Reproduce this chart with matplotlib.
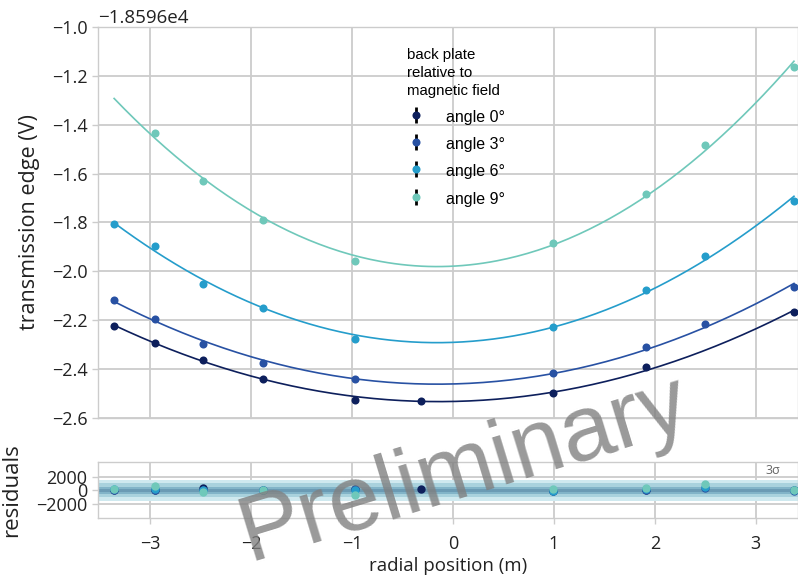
"""
    Transmission edge vs radial position

    Quadratic fits per back plate angle, with residuals panel.
"""

import numpy as np
import matplotlib
matplotlib.use("Agg")
import matplotlib.pyplot as plt
from matplotlib.ticker import ScalarFormatter

plt.rcParams['font.family'] = ['Open Sans', 'DejaVu Sans']

# --- data ---
OFFSET_V = -18596.0
positions = np.array([-3.36, -2.95, -2.48, -1.88, -0.97, -0.32, 0.99, 1.91, 2.50, 3.38])

labels = ['angle 0°', 'angle 3°', 'angle 6°', 'angle 9°']
colors = ['#0d1f5c', '#2851a3', '#259dcb', '#6fc8ba']

# indices into positions measured for each angle
idx_0 = [0, 1, 2, 3, 4, 5, 6, 7, 9]
idx_3 = [0, 1, 2, 3, 4, 6, 7, 8, 9]
idx_6 = [0, 1, 2, 3, 4, 6, 7, 8, 9]
idx_9 = [1, 2, 3, 4, 6, 7, 8, 9]

edge_0 = OFFSET_V + np.array([-2.222, -2.293, -2.364, -2.439, -2.526, -2.529, -2.499, -2.392, -2.165])
edge_3 = OFFSET_V + np.array([-2.117, -2.193, -2.296, -2.376, -2.442, -2.417, -2.311, -2.217, -2.064])
edge_6 = OFFSET_V + np.array([-1.805, -1.895, -2.050, -2.149, -2.278, -2.226, -2.077, -1.936, -1.711])
edge_9 = OFFSET_V + np.array([-1.434, -1.630, -1.790, -1.957, -1.884, -1.683, -1.483, -1.164])
edge_err = 0.003  # V, too small to see next to the markers

# residuals as shown in the lower panel
res_idx_0 = [0, 1, 2, 3, 4, 5, 6, 7, 9]
res_idx_3 = [0, 1, 2, 3, 4, 6, 7, 8, 9]
res_idx_6 = [0, 1, 2, 3, 4, 6, 7, 8, 9]
res_idx_9 = [0, 1, 2, 3, 4, 6, 7, 8, 9]
resid_0 = [50, 60, 290, 50, 150, 150, -150, 0, 0]
resid_3 = [100, 100, 100, 100, 200, -100, 50, 400, -50]
resid_6 = [120, 150, 0, 100, 50, -50, 250, 450, 0]
resid_9 = [150, 690, -230, 100, -630, 250, 350, 980, 0]
sigma = 520

GRID = '#cccccc'


def style_axes(ax) -> None:
    ax.set_facecolor('white')
    ax.grid(True, color=GRID, linewidth=1.3)
    ax.set_axisbelow(True)
    for sp in ax.spines.values():
        sp.set_color(GRID)
        sp.set_linewidth(1.0)
    ax.tick_params(direction='out', length=4, width=1, color=GRID,
                   labelsize=13, labelcolor='#222222')


def main() -> None:
    fig = plt.figure(figsize=(7.98, 5.77), dpi=100)
    ax = fig.add_axes([0.1228, 0.2756, 0.8772, 0.6776])
    axr = fig.add_axes([0.1228, 0.1017, 0.8772, 0.0971], sharex=ax)
    style_axes(ax)
    style_axes(axr)

    series = [
        (idx_0, edge_0, res_idx_0, resid_0),
        (idx_3, edge_3, res_idx_3, resid_3),
        (idx_6, edge_6, res_idx_6, resid_6),
        (idx_9, edge_9, res_idx_9, resid_9),
    ]
    xfit = np.linspace(positions.min(), positions.max(), 200)
    for (idx, edge, ridx, res), lab, col in zip(series, labels, colors):
        x = positions[idx]
        coef = np.polyfit(x, edge, 2)
        ax.plot(xfit, np.polyval(coef, xfit), color=col, lw=1.2, zorder=2)
        ax.errorbar(x, edge, yerr=edge_err, fmt='o', color=col, ms=5.8,
                    mew=0, ecolor='black', elinewidth=2, capsize=0,
                    label=lab, zorder=3)

    # residual bands
    axr.axhspan(-3 * sigma, 3 * sigma, color='#cfe9ef', lw=0, zorder=1)
    axr.axhspan(-2 * sigma, 2 * sigma, color='#a9d2dd', lw=0, zorder=1)
    axr.axhspan(-sigma, sigma, color='#82b4c8', lw=0, zorder=1)
    axr.axhspan(-0.4 * sigma, 0.4 * sigma, color='#6b9bb4', lw=0, zorder=1)
    axr.text(3.1, 3 * sigma + 350, '3σ', fontsize=9, color='#666666',
             va='bottom', ha='left', zorder=2)
    for (idx, edge, ridx, res), col in zip(series, colors):
        axr.plot(positions[ridx], res, 'o', color=col, ms=6, mew=0, zorder=3)

    ax.set_xlim(-3.52, 3.42)
    ax.set_ylim(OFFSET_V - 2.6, OFFSET_V - 1.0)
    ax.set_yticks(OFFSET_V + np.array([-2.6, -2.4, -2.2, -2.0, -1.8, -1.6, -1.4, -1.2, -1.0]))
    fmt = ScalarFormatter(useOffset=OFFSET_V)
    ax.yaxis.set_major_formatter(fmt)
    ax.yaxis.get_offset_text().set_fontsize(13.5)
    ax.yaxis.get_offset_text().set_color('#222222')
    ax.set_xticks([-3, -2, -1, 0, 1, 2, 3])
    ax.tick_params(axis='x', labelbottom=False, length=0)
    ax.set_ylabel('transmission edge (V)', fontsize=15.5, color='#222222')
    ax.yaxis.set_label_coords(-0.083, 0.5)

    axr.set_ylim(-4100, 4100)
    axr.set_yticks([-2000, 0, 2000])
    axr.set_ylabel('residuals', fontsize=16, color='#222222')
    axr.yaxis.set_label_coords(-0.109, 0.5)
    axr.set_xlabel('radial position (m)', fontsize=13.5, color='#222222',
                   labelpad=3)
    axr.tick_params(axis='x', pad=8)

    leg = ax.legend(loc='upper left', bbox_to_anchor=(407 / 798, 1 - 48 / 577),
                    bbox_transform=fig.transFigure, frameon=False, borderpad=0,
                    borderaxespad=0, handlelength=1.16, handleheight=1.3,
                    handletextpad=1.3, labelspacing=0.62,
                    prop={'family': 'Liberation Sans', 'size': 11.5},
                    title='back plate\nrelative to\nmagnetic field',
                    title_fontproperties={'family': 'Liberation Sans', 'size': 10.8},
                    alignment='left')
    leg.get_title().set_linespacing(1.35)
    leg.set_zorder(5)

    fig.text(0.582, 0.186, 'Preliminary', rotation=17, fontsize=67,
             family='Liberation Sans', color='gray', alpha=0.8,
             ha='center', va='center', zorder=10)

    fig.savefig('out.png', dpi=100)


if __name__ == "__main__":
    main()
